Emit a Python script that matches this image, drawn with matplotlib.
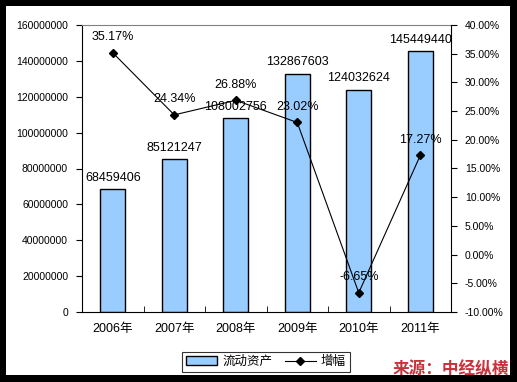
import matplotlib
matplotlib.use("Agg")
from matplotlib import pyplot as plt
from matplotlib.patches import Rectangle
import numpy as np

plt.rcParams['font.family'] = ['Liberation Sans', 'Noto Sans CJK SC', 'DejaVu Sans']

# data
years = ["2006年", "2007年", "2008年", "2009年", "2010年", "2011年"]
assets = [68459406, 85121247, 108002756, 132867603, 124032624, 145449440]
growth = [35.17, 24.34, 26.88, 23.02, -6.65, 17.27]

fig = plt.figure(figsize=(5.17, 3.82), dpi=100)
fig.patch.set_facecolor("black")
# white inner area, black frame round it
fig.patches.append(Rectangle((6 / 517, 7 / 382), 504 / 517, 369 / 382,
                             transform=fig.transFigure, facecolor="white",
                             edgecolor="none", zorder=-10))

ax = fig.add_axes([82 / 517, 1 - 312 / 382, 369 / 517, 287 / 382])
ax.set_facecolor("white")
x = np.arange(len(years))

bars = ax.bar(x, assets, width=0.4, color="#99CCFF", edgecolor="black",
              linewidth=1, label="流动资产", zorder=2)
for xi, v in zip(x, assets):
    ax.annotate(str(v), (xi, v), xytext=(0, 4), textcoords="offset points",
                ha="center", va="bottom", fontsize=9)

ax.set_ylim(0, 160000000)
ax.set_yticks(np.arange(0, 160000001, 20000000))
ax.set_yticklabels([str(int(t)) for t in np.arange(0, 160000001, 20000000)], fontsize=7.5)
ax.set_xlim(-0.5, len(years) - 0.5)
ax.set_xticks(x)
ax.set_xticklabels(years, fontsize=9)
ax.tick_params(axis="x", length=0, pad=8)
ax.set_xticks(np.arange(0.5, len(years) - 0.5, 1), minor=True)
ax.tick_params(axis="x", which="minor", direction="in", length=4)
ax.tick_params(axis="y", direction="out", length=4, pad=6)
ax.spines["top"].set_color("#808080")
ax.spines["right"].set_visible(False)

ax2 = ax.twinx()
line, = ax2.plot(x, growth, color="black", linewidth=0.8, marker="D",
                 markersize=4.5, label="增幅", zorder=3)
for xi, g in zip(x, growth):
    ax2.annotate(f"{g:.2f}%", (xi, g), xytext=(0, 7), textcoords="offset points",
                 ha="center", va="bottom", fontsize=9)
ax2.set_ylim(-10, 40)
ax2.set_yticks(np.arange(-10, 40.1, 5))
ax2.set_yticklabels([f"{t:.2f}%" for t in np.arange(-10, 40.1, 5)], fontsize=7.5)
ax2.tick_params(axis="y", direction="out", length=4, pad=6)
for s in ["top", "left", "bottom"]:
    ax2.spines[s].set_visible(False)

leg = fig.legend([bars, line], ["流动资产", "增幅"], ncol=2, loc="center",
                 bbox_to_anchor=(266 / 517, 1 - 362 / 382), fontsize=9,
                 frameon=True, fancybox=False, edgecolor="black",
                 handlelength=2.5, handletextpad=0.4, columnspacing=1.0,
                 borderpad=0.3)
leg.get_frame().set_linewidth(0.8)

fig.text(509 / 517, 1 - 369 / 382, "来源：中经纵横", ha="right", va="center",
         fontsize=12, fontweight="bold", color="#C8323C",
         family=["Noto Sans CJK SC"])

fig.savefig("out.png", dpi=100, facecolor=fig.get_facecolor())
